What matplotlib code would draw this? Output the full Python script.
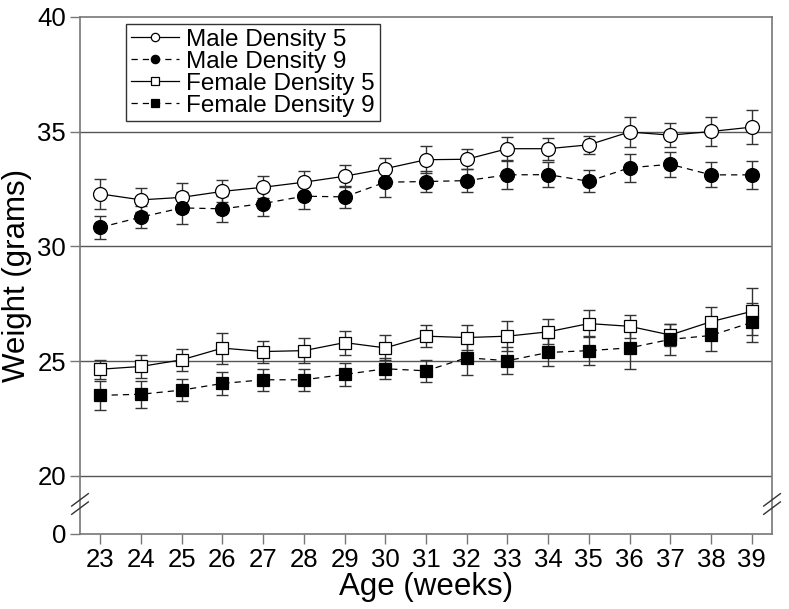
import matplotlib
matplotlib.use("Agg")
import matplotlib.pyplot as plt

plt.rcParams["font.family"] = ["Liberation Sans", "DejaVu Sans"]

weeks = list(range(23, 40))

male_d5 = [32.29, 32.03, 32.14, 32.40, 32.58, 32.80, 33.06, 33.39, 33.78,
           33.80, 34.26, 34.26, 34.43, 34.99, 34.85, 35.01, 35.20]
male_d5_err = [0.64, 0.52, 0.62, 0.48, 0.48, 0.48, 0.49, 0.48, 0.58,
               0.43, 0.51, 0.48, 0.38, 0.65, 0.52, 0.62, 0.74]

male_d9 = [30.83, 31.28, 31.68, 31.64, 31.87, 32.19, 32.16, 32.80, 32.83,
           32.87, 33.12, 33.13, 32.84, 33.43, 33.58, 33.12, 33.12]
male_d9_err = [0.49, 0.49, 0.70, 0.57, 0.54, 0.54, 0.48, 0.64, 0.46,
               0.51, 0.61, 0.55, 0.48, 0.61, 0.55, 0.54, 0.61]

female_d5 = [24.65, 24.77, 25.06, 25.57, 25.42, 25.46, 25.81, 25.58, 26.09,
             26.03, 26.09, 26.28, 26.64, 26.52, 26.14, 26.72, 27.17]
female_d5_err = [0.41, 0.51, 0.48, 0.68, 0.48, 0.54, 0.52, 0.54, 0.49,
                 0.55, 0.64, 0.55, 0.60, 0.50, 0.48, 0.65, 1.04]

female_d9 = [23.51, 23.56, 23.74, 24.03, 24.19, 24.19, 24.42, 24.67, 24.58,
             25.15, 25.02, 25.38, 25.46, 25.58, 25.95, 26.12, 26.69]
female_d9_err = [0.62, 0.59, 0.49, 0.52, 0.49, 0.49, 0.49, 0.45, 0.49,
                 0.77, 0.58, 0.61, 0.62, 0.91, 0.67, 0.68, 0.86]

# y axis is broken: the "0" tick sits just below 20
zero_pos = 17.47
y_ticks = [zero_pos, 20, 25, 30, 35, 40]
y_labels = ["0", "20", "25", "30", "35", "40"]
grid_levels = [20, 25, 30, 35]

fig = plt.figure(figsize=(7.89, 6.09), dpi=100)
ax = fig.add_axes([0.1014, 0.1232, 0.8771, 0.8489])

for level in grid_levels:
    ax.axhline(level, color="#555555", linewidth=1.0, zorder=1)

series = [
    (male_d5, male_d5_err, "o", "white", "-", "Male Density 5"),
    (male_d9, male_d9_err, "o", "black", (0, (5, 4)), "Male Density 9"),
    (female_d5, female_d5_err, "s", "white", "-", "Female Density 5"),
    (female_d9, female_d9_err, "s", "black", (0, (5, 4)), "Female Density 9"),
]

for values, errs, marker, face, style, label in series:
    ax.errorbar(weeks, values, yerr=errs, fmt="none", ecolor="#333333",
                elinewidth=1.0, capsize=4, capthick=1.0, zorder=2)
    ax.plot(weeks, values, color="black", linestyle=style, linewidth=0.9,
            marker=marker, markersize=10 if marker == "o" else 9,
            markerfacecolor=face, markeredgecolor="black",
            markeredgewidth=0.9, label=label, zorder=3)

ax.set_xlim(22.5, 39.5)
ax.set_ylim(zero_pos, 40)
ax.set_xticks(weeks)
ax.set_yticks(y_ticks)
ax.set_yticklabels(y_labels)
ax.tick_params(axis="both", direction="out", length=7, width=1.0,
               color="#777777", labelsize=18.5, pad=3)

for side in ["left", "right", "top", "bottom"]:
    ax.spines[side].set_color("#777777")
    ax.spines[side].set_linewidth(1.2)

# break marks on both vertical spines
brk_y = 0.058
for x0 in (0.0, 1.0):
    for dy in (-0.008, 0.008):
        ax.plot([x0 - 0.012, x0 + 0.012], [brk_y + dy - 0.012, brk_y + dy + 0.012],
                transform=ax.transAxes, color="#333333", linewidth=1.0,
                clip_on=False, zorder=5)

ax.set_xlabel("Age (weeks)", fontsize=22.5, labelpad=0)
ax.set_ylabel("Weight (grams)", fontsize=22.5, labelpad=4)

leg = ax.legend(loc="upper left", bbox_to_anchor=(0.066, 0.987),
                borderaxespad=0, fontsize=17.5, frameon=True, fancybox=False,
                markerscale=0.6, handlelength=2.0, handletextpad=0.3,
                labelspacing=0.0, borderpad=0.2)
leg.get_frame().set_edgecolor("black")
leg.get_frame().set_linewidth(1.0)

fig.savefig("out.png", dpi=100)
